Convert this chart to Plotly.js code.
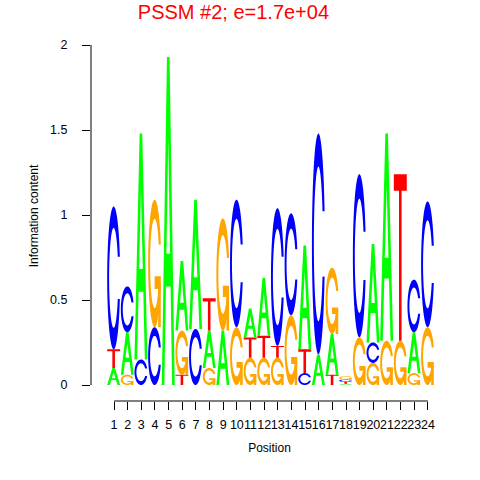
<!DOCTYPE html>
<html><head><meta charset="utf-8">
<script src="https://cdn.plot.ly/plotly-3.0.1.min.js"></script>
<style>html,body{margin:0;padding:0;background:#fff}</style>
</head><body><div id="chart" style="width:480px;height:480px"></div>
<script>
// ---- data ----
const positions = [1,2,3,4,5,6,7,8,9,10,11,12,13,14,15,16,17,18,19,20,21,22,23,24];
const tickLabels = positions.map(String);
// stacking order, bottom -> top
const stackOrder = ["ATC","GAC","CA","CG","A","TGA","CA","GAT","AG","GC","GTA","GTA","GTC","GC","CTA","AC","TAG","ATCG","GC","GCA","GA","GT","GAC","GC"];
const heightA = [0.10,0.25,1.33,0,   1.93,0.41,0.76,0.22,0.32,0,   0.17,0.34,0,   0,   0.61,0.18,0.24,0.008,0,   0.58,1.22,0,   0.24,0];
const heightC = [0.84,0.27,0.15,0.34,0,   0,   0.33,0,   0,   0.75,0,   0,   0.81,0.60,0.07,1.30,0,   0.014,0.96,0.12,0,   0,   0.31,0.74];
const heightG = [0,   0.06,0,   0.75,0,   0.26,0,   0.10,0.66,0.34,0.16,0.16,0.16,0.41,0,   0,   0.39,0.020,0.28,0.13,0.26,0.26,0.07,0.34];
const heightT = [0.11,0,   0,   0,   0,   0.06,0,   0.19,0,   0,   0.12,0.13,0.07,0,   0.14,0,   0.06,0.010,0,   0,   0,   0.98,0,   0];
const yTickVals = [0,0.5,1,1.5,2];
const yTickText = ["0","0.5","1","1.5","2"];

const letterColors = {A:'#00FF00', C:'#0000FF', G:'#FFA500', T:'#FF0000'};
const heights = {A:heightA, C:heightC, G:heightG, T:heightT};

// ---- glyph outlines in unit box ----
function cOutline(){
  const pts = [];
  const n = 60;
  const a0 = -0.3, a1 = -2*Math.PI + 0.3;
  for (let i=0;i<=n;i++){ const a = a0 + (a1-a0)*i/n; pts.push([0.5+0.5*Math.cos(a), 0.5+0.5*Math.sin(a)]); }
  const b0 = -2*Math.PI + 0.437, b1 = -0.437;
  for (let i=0;i<=n;i++){ const a = b0 + (b1-b0)*i/n; pts.push([0.5+0.35*Math.cos(a), 0.5+0.35*Math.sin(a)]); }
  return pts;
}
function glyph(letter){
  if (letter === 'A') return [
    {pts:[[0,0],[0.4,1],[0.6,1],[1,0],[0.8,0],[0.68,0.3],[0.32,0.3],[0.2,0]], white:false},
    {pts:[[0.36,0.4],[0.5,0.75],[0.64,0.4]], white:true}];
  if (letter === 'T') return [{pts:[[0,1],[1,1],[1,0.9],[0.6,0.9],[0.6,0],[0.4,0],[0.4,0.9],[0,0.9]], white:false}];
  if (letter === 'C') return [{pts:cOutline(), white:false}];
  const r1 = 0.5+0.5*Math.cos(0.3);
  return [{pts:cOutline(), white:false},
          {pts:[[r1,0.4],[0.5,0.4],[0.5,0.3],[r1-0.2,0.3],[r1-0.2,0],[r1,0]], white:false}];
}

const shapes = [];
const totals = [];
positions.forEach((p, i) => {
  let base = 0;
  for (const L of stackOrder[i]) {
    const h = heights[L][i];
    if (h > 0) {
      const x0 = p - 0.5, w = 0.95;
      glyph(L).forEach(poly => {
        const d = 'M' + poly.pts.map(q => (x0 + q[0]*w).toFixed(4) + ',' + (base + q[1]*h).toFixed(5)).join('L') + 'Z';
        shapes.push({type:'path', xref:'x', yref:'y', path:d, fillcolor: poly.white ? '#FFFFFF' : letterColors[L], line:{width:0}, layer:'above'});
      });
    }
    base += h;
  }
  totals.push(base);
});

// R-style axis lines spanning only the tick range
shapes.push({type:'line', xref:'x', yref:'paper', x0:positions[0], x1:positions[positions.length-1], y0:0, y1:0, line:{color:'#000', width:1}});
shapes.push({type:'line', xref:'paper', yref:'y', x0:0, x1:0, y0:yTickVals[0], y1:yTickVals[yTickVals.length-1], line:{color:'#000', width:1}});

const font = 'Liberation Sans, Arial, sans-serif';
const trace = {x:positions, y:totals, type:'scatter', mode:'markers', marker:{opacity:0}, hoverinfo:'skip', showlegend:false};

const layout = {
  width:480, height:480,
  margin:{l:91, r:32, t:31, b:79},
  paper_bgcolor:'#fff', plot_bgcolor:'#fff',
  font:{family:font, size:12, color:'#000'},
  title:{text:'PSSM #2; e=1.7e+04', font:{family:font, size:20, color:'#FF0000'}, x:0.4863, xanchor:'center', xref:'container', yref:'container', y:1-12/480, yanchor:'middle'},
  xaxis:{range:[-0.685, 25.47], tickmode:'array', tickvals:positions, ticktext:tickLabels, tickangle:0, ticks:'outside', ticklen:8, tickcolor:'#000',
         ticklabelstandoff:4,
         showline:false, showgrid:false, zeroline:false, tickfont:{family:font, size:12.5, color:'#000'},
         title:{text:'Position', font:{family:font, size:12, color:'#000'}, standoff:12}},
  yaxis:{range:[-0.0941, 2.0824], tickmode:'array', tickvals:yTickVals, ticktext:yTickText, tickangle:0, ticks:'outside', ticklen:8, tickcolor:'#000',
         ticklabelstandoff:12,
         showline:false, showgrid:false, zeroline:false, tickfont:{family:font, size:12.5, color:'#000'},
         title:{text:'Information content', font:{family:font, size:12, color:'#000'}, standoff:8}},
  shapes:shapes
};
Plotly.newPlot('chart', [trace], layout, {displayModeBar:false, staticPlot:true});
</script>
</body></html>
